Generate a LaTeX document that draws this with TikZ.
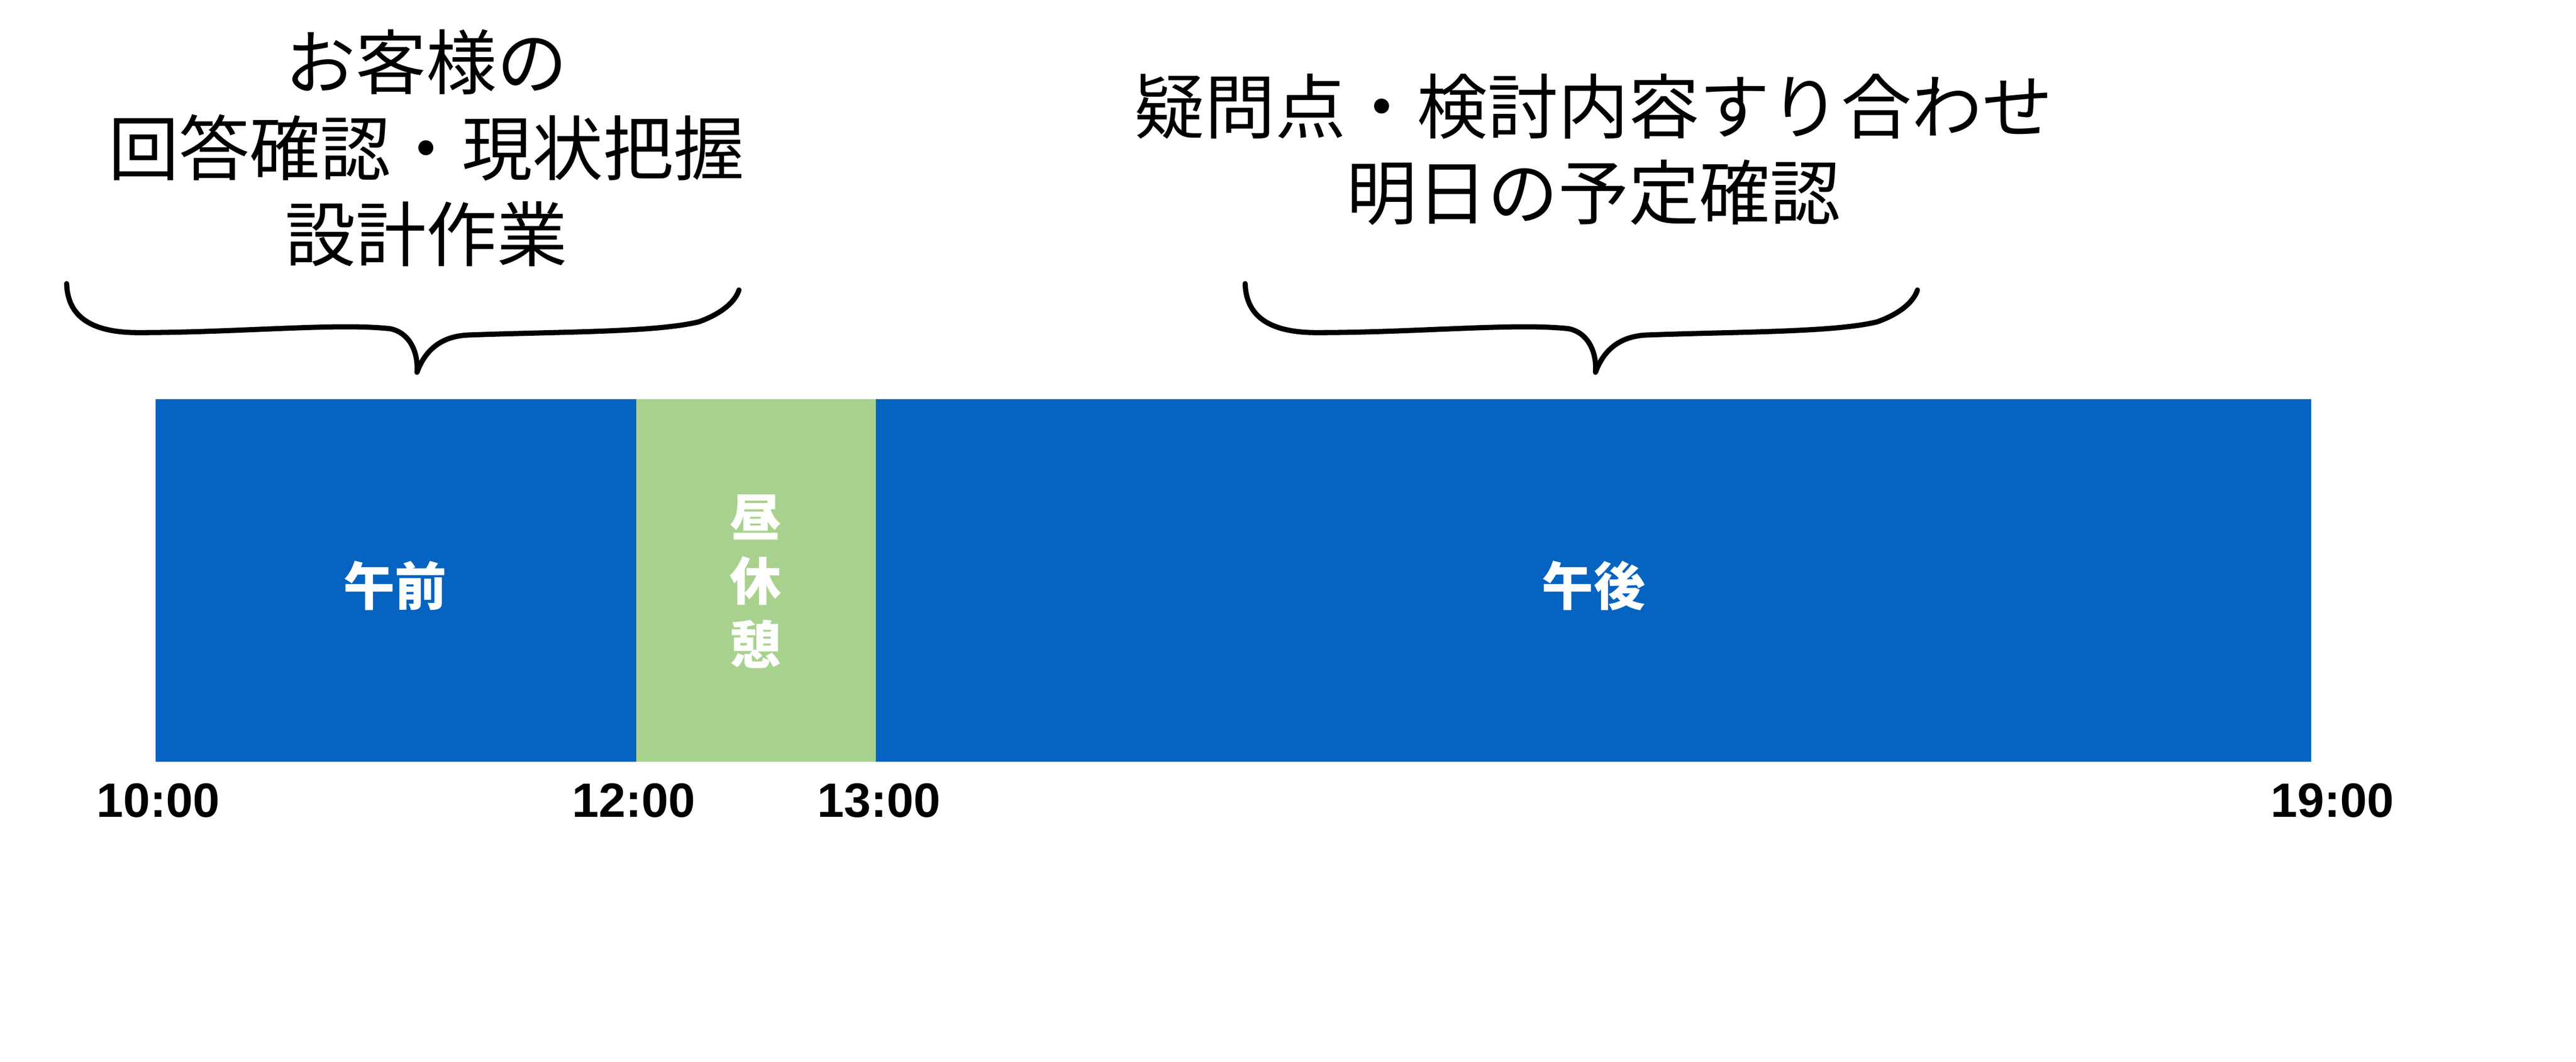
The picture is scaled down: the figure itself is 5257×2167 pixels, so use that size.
\documentclass[tikz,border=0pt]{standalone}
\usepackage{fontspec}
\setmainfont{Liberation Sans}
\newfontfamily\jp{Noto Sans CJK JP}
\definecolor{amblue}{HTML}{0563C1}
\definecolor{lunchgreen}{HTML}{A9D18E}
\tikzset{
  seglabel/.style={text=white, inner sep=0, font=\jp\bfseries\fontsize{30}{37}\selectfont, align=center},
  timelabel/.style={text=black, inner sep=0, font=\bfseries\fontsize{28}{30}\selectfont},
  toptext/.style={text=black, inner sep=0, font=\jp\fontsize{41}{50}\selectfont, align=center},
  curlybrace/.pic={
    \draw[line width=3pt, line cap=round, line join=round]
      (0,0) .. controls (2,60) and (40,100) .. (146,100)
      .. controls (350,100) and (550,80) .. (660,92)
      .. controls (700,100) and (718,140) .. (715,181)
      .. controls (730,140) and (760,108) .. (818,105)
      .. controls (1000,98) and (1200,100) .. (1290,78)
      .. controls (1340,60) and (1365,35) .. (1372,13);
  }
}
\begin{document}
\begin{tikzpicture}[x=0.01cm,y=-0.01cm]
\useasboundingbox (0,0) rectangle (5257,2167);
\fill[white] (0,0) rectangle (5257,2167);
% bars
\fill[amblue] (318,815) rectangle (1298,1555);
\fill[lunchgreen] (1298,815) rectangle (1787,1555);
\fill[amblue] (1787,815) rectangle (4717,1555);
\node[seglabel] (am) at (806,1196) {午前};
\node[seglabel] (lunch) at (1542,1187) {昼\\休\\憩};
\node[seglabel] (pm) at (3252,1196) {午後};
% times
\node[timelabel] (t10) at (323,1634) {10:00};
\node[timelabel] (t12) at (1293,1634) {12:00};
\node[timelabel] (t13) at (1794,1634) {13:00};
\node[timelabel] (t19) at (4760,1634) {19:00};
% braces
\pic at (136,579) {curlybrace};
\pic at (2541,579) {curlybrace};
% texts
\node[toptext] (morning) at (870,302) {お客様の\\回答確認・現状把握\\設計作業};
\node[toptext] (evening) at (3252,305) {疑問点・検討内容すり合わせ\\明日の予定確認};
\end{tikzpicture}
\end{document}
